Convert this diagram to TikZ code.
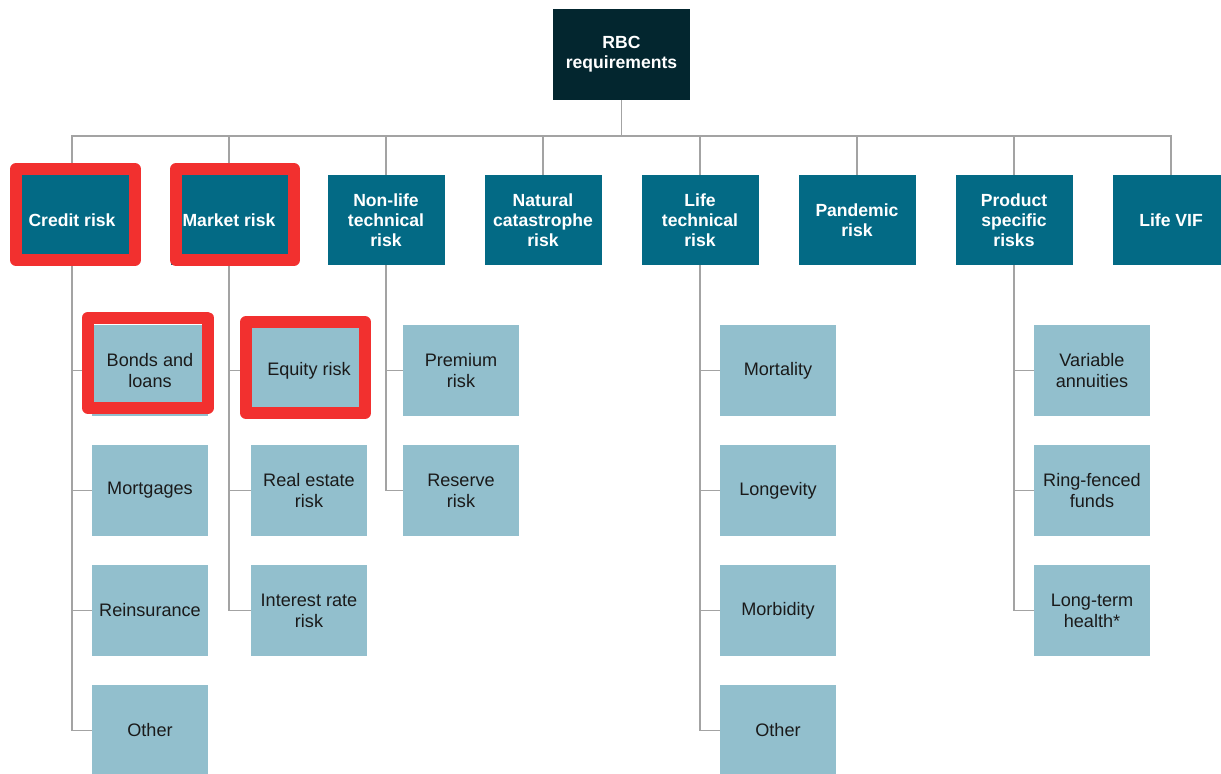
\documentclass[tikz,border=0pt]{standalone}
\usepackage{fontspec}
\setmainfont{Liberation Sans}
\usepackage{tikz}
\usetikzlibrary{positioning}
\definecolor{topcol}{HTML}{03262F}
\definecolor{catcol}{HTML}{036A85}
\definecolor{subcol}{HTML}{92BFCD}
\definecolor{subtext}{HTML}{1A1A1A}
\definecolor{linecol}{HTML}{A3A3A3}
\definecolor{hlred}{HTML}{F2302F}

\begin{document}
\begin{tikzpicture}[main/.style = {rectangle, inner sep=0pt, outer sep=0pt, align=center},
        top/.style = {main, fill=topcol, text=white, minimum width=2.74cm, minimum height=1.82cm,
                font=\fontsize{10}{11.4}\selectfont\bfseries},
        cat/.style = {main, fill=catcol, text=white, minimum width=2.34cm, minimum height=1.8cm,
                font=\fontsize{10}{11.4}\selectfont\bfseries},
        sub/.style = {main, fill=subcol, text=subtext, minimum width=2.32cm, minimum height=1.82cm,
                font=\fontsize{10.3}{11.8}\selectfont},
        conn/.style = {draw=linecol, line width=0.85pt},
        hilite/.style = {draw=hlred, line width=0.24cm, line join=round},
        node distance=0.58cm and 0.8cm]
        \useasboundingbox (0,0) rectangle (24.42,-15.46);
        \node[top] (0) at (12.43,-1.09) {RBC\\requirements};
        \coordinate (bus) at (0,-2.72);
        % main risk modules
        \node[cat] (1) at (1.44,-4.4) {Credit risk};
        \node[cat, right=of 1] (2) {Market risk};
        \node[cat, right=of 2] (3) {Non-life\\technical\\risk};
        \node[cat, right=of 3] (4) {Natural\\catastrophe\\risk};
        \node[cat, right=of 4] (5) {Life\\technical\\risk};
        \node[cat, right=of 5] (6) {Pandemic\\risk};
        \node[cat, right=of 6] (7) {Product\\specific\\risks};
        \node[cat, right=of 7] (8) {Life VIF};
        % sub modules
        \node[sub, below=1.2cm of 1, xshift=1.56cm] (1a) {Bonds and\\loans};
        \node[sub, below=of 1a] (1b) {Mortgages};
        \node[sub, below=of 1b] (1c) {Reinsurance};
        \node[sub, below=of 1c] (1d) {Other};
        \node[sub, below=1.2cm of 2, xshift=1.6cm] (2a) {Equity risk};
        \node[sub, below=of 2a] (2b) {Real estate\\risk};
        \node[sub, below=of 2b] (2c) {Interest rate\\risk};
        \node[sub, below=1.2cm of 3, xshift=1.5cm] (3a) {Premium\\risk};
        \node[sub, below=of 3a] (3b) {Reserve\\risk};
        \node[sub, below=1.2cm of 5, xshift=1.56cm] (5a) {Mortality};
        \node[sub, below=of 5a] (5b) {Longevity};
        \node[sub, below=of 5b] (5c) {Morbidity};
        \node[sub, below=of 5c] (5d) {Other};
        \node[sub, below=1.2cm of 7, xshift=1.56cm] (7a) {Variable\\annuities};
        \node[sub, below=of 7a] (7b) {Ring-fenced\\funds};
        \node[sub, below=of 7b] (7c) {Long-term\\health*};
        % connectors
        \foreach \i in {1,...,8}
                \draw[conn] (0.south) |- (bus -| \i.north) -- (\i.north);
        \foreach \p/\c in {1/1a,1/1b,1/1c,1/1d,2/2a,2/2b,2/2c,3/3a,3/3b,5/5a,5/5b,5/5c,5/5d,7/7a,7/7b,7/7c}
                \draw[conn] (\p.south) |- (\c.west);
        % highlighted modules
        \draw[hilite] ([shift={(0.05,0.12)}]1.north west) rectangle ([shift={(0.09,0.10)}]1.south east);
        \draw[hilite] ([shift={(0.11,0.12)}]2.north west) rectangle ([shift={(0.13,0.10)}]2.south east);
        \draw[hilite] ([shift={(-0.08,0.15)}]1a.north west) rectangle ([shift={(-0.01,0.16)}]1a.south east);
        \draw[hilite] ([shift={(-0.10,0.06)}]2a.north west) rectangle ([shift={(-0.04,0.06)}]2a.south east);
\end{tikzpicture}
\end{document}
